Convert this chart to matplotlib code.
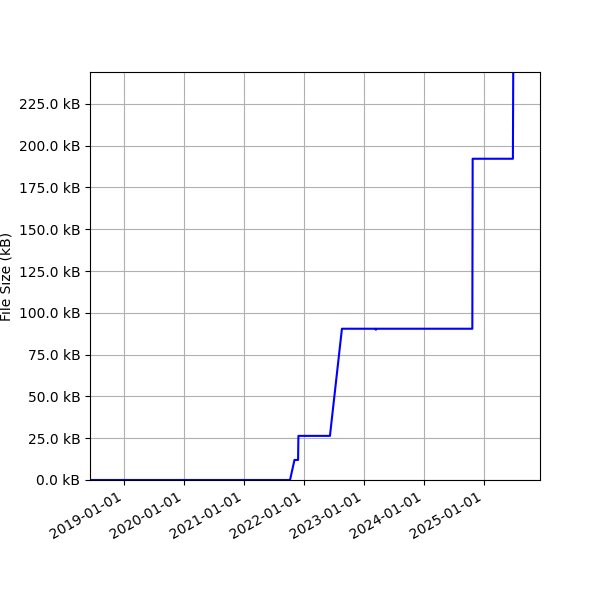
"""File size history of a single file, drawn as a line over time."""
import matplotlib
matplotlib.use("Agg")
import matplotlib.dates as mdates
import matplotlib.pyplot as plt
import numpy as np
from matplotlib.ticker import FuncFormatter, MultipleLocator

# Commit dates and the file size (kB) after each commit.
DATES = [
    "2018-06-08", "2021-10-08", "2021-11-04", "2021-11-26", "2021-11-28",
    "2022-06-08", "2022-08-20", "2023-03-13", "2023-03-15", "2023-03-17",
    "2024-10-22", "2024-10-24", "2025-06-26", "2025-06-28",
]
SIZES_KB = [
    0.0, 0.0, 12.0, 12.0, 26.4,
    26.4, 90.5, 90.5, 89.9, 90.5,
    90.5, 192.2, 192.2, 244.1,
]
X_START, X_END = "2018-06-08", "2025-12-08"


def main():
    dates = np.array(DATES, dtype="datetime64[D]")
    fig, ax = plt.subplots(figsize=(6, 6), dpi=100)
    ax.plot(dates, SIZES_KB, color="blue", linewidth=1.5)

    ax.set_xlim(np.datetime64(X_START), np.datetime64(X_END))
    ax.set_ylim(0, max(SIZES_KB))
    ax.xaxis.set_major_locator(mdates.YearLocator())
    ax.xaxis.set_major_formatter(mdates.DateFormatter("%Y-%m-%d"))
    ax.yaxis.set_major_locator(MultipleLocator(25))
    ax.yaxis.set_major_formatter(FuncFormatter(lambda v, _: f"{v:.1f} kB"))
    ax.set_ylabel("File Size (kB)")
    ax.grid(True)

    fig.autofmt_xdate()
    fig.subplots_adjust(left=0.15)
    fig.savefig("out.png", dpi=100)
    plt.close(fig)


if __name__ == "__main__":
    main()
